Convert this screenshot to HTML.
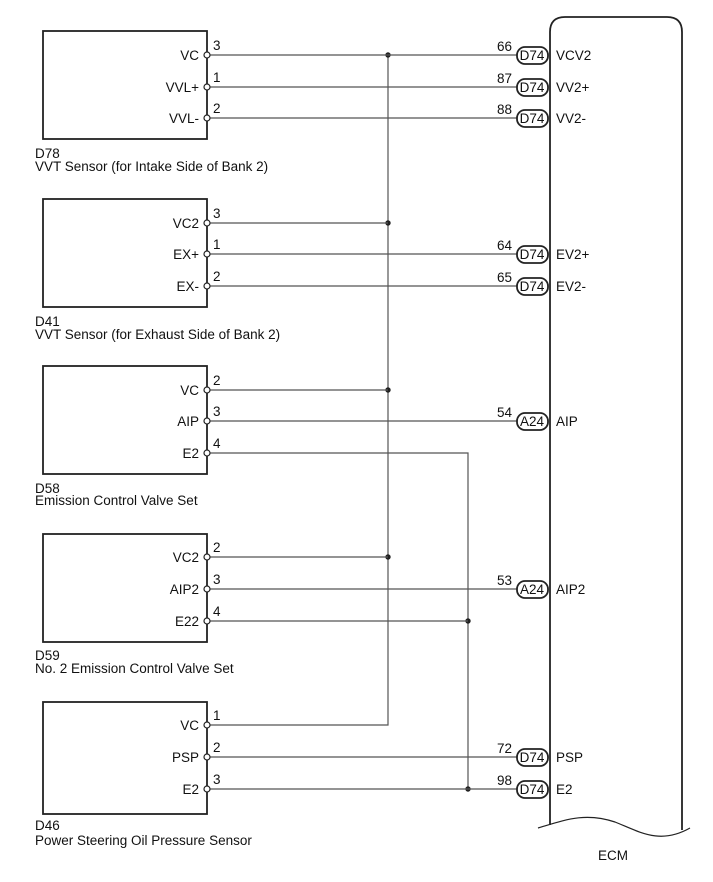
<!DOCTYPE html>
<html><head><meta charset="utf-8"><style>
html,body{margin:0;padding:0;background:#fff;}
svg{display:block;}
text{font-family:"Liberation Sans",Arial,sans-serif;font-size:13.5px;fill:#111;}
.w{stroke:#555;stroke-width:1.2;fill:none;}
.b{stroke:#222;stroke-width:1.8;fill:none;}
.p{stroke:#222;stroke-width:1.2;fill:#fff;}
.pill{stroke:#222;stroke-width:1.8;fill:#fff;}
</style></head><body>
<svg width="713" height="882" viewBox="0 0 713 882" xmlns="http://www.w3.org/2000/svg">
<path class="b" d="M550,825 L550,32 Q550,17 565,17 L667,17 Q682,17 682,32 L682,830"/>
<path class="b" style="stroke-width:1.2" d="M538,828 C565,820 585,812 615,822 C640,832 660,845 690,828"/>
<text x="598" y="860">ECM</text>

<path class="w" d="M388,55 L388,725 L207,725"/>
<path class="w" d="M207,453 L468,453 L468,789"/>
<g fill="#222">
<circle cx="388" cy="55" r="2.7"/><circle cx="388" cy="223" r="2.7"/>
<circle cx="388" cy="390" r="2.7"/><circle cx="388" cy="557" r="2.7"/>
<circle cx="468" cy="621" r="2.7"/><circle cx="468" cy="789" r="2.7"/>
</g>

<g class="w">
<line x1="207" y1="55" x2="517" y2="55"/>
<line x1="207" y1="87" x2="517" y2="87"/>
<line x1="207" y1="118" x2="517" y2="118"/>
<line x1="207" y1="223" x2="388" y2="223"/>
<line x1="207" y1="254" x2="517" y2="254"/>
<line x1="207" y1="286" x2="517" y2="286"/>
<line x1="207" y1="390" x2="388" y2="390"/>
<line x1="207" y1="421" x2="517" y2="421"/>
<line x1="207" y1="557" x2="388" y2="557"/>
<line x1="207" y1="589" x2="517" y2="589"/>
<line x1="207" y1="621" x2="468" y2="621"/>
<line x1="207" y1="757" x2="517" y2="757"/>
<line x1="207" y1="789" x2="517" y2="789"/>
</g>

<g class="b">
<rect x="43" y="31" width="164" height="108"/>
<rect x="43" y="199" width="164" height="108"/>
<rect x="43" y="366" width="164" height="108"/>
<rect x="43" y="534" width="164" height="108"/>
<rect x="43" y="702" width="164" height="112"/>
</g>

<g class="p">
<circle cx="207" cy="55" r="3"/><circle cx="207" cy="87" r="3"/><circle cx="207" cy="118" r="3"/>
<circle cx="207" cy="223" r="3"/><circle cx="207" cy="254" r="3"/><circle cx="207" cy="286" r="3"/>
<circle cx="207" cy="390" r="3"/><circle cx="207" cy="421" r="3"/><circle cx="207" cy="453" r="3"/>
<circle cx="207" cy="557" r="3"/><circle cx="207" cy="589" r="3"/><circle cx="207" cy="621" r="3"/>
<circle cx="207" cy="725" r="3"/><circle cx="207" cy="757" r="3"/><circle cx="207" cy="789" r="3"/>
</g>

<g text-anchor="end">
<text x="199" y="60">VC</text><text x="199" y="92">VVL+</text><text x="199" y="123">VVL-</text>
<text x="199" y="228">VC2</text><text x="199" y="259">EX+</text><text x="199" y="291">EX-</text>
<text x="199" y="395">VC</text><text x="199" y="426">AIP</text><text x="199" y="458">E2</text>
<text x="199" y="562">VC2</text><text x="199" y="594">AIP2</text><text x="199" y="626">E22</text>
<text x="199" y="730">VC</text><text x="199" y="762">PSP</text><text x="199" y="794">E2</text>
</g>
<g>
<text x="213" y="50">3</text><text x="213" y="82">1</text><text x="213" y="113">2</text>
<text x="213" y="218">3</text><text x="213" y="249">1</text><text x="213" y="281">2</text>
<text x="213" y="385">2</text><text x="213" y="416">3</text><text x="213" y="448">4</text>
<text x="213" y="552">2</text><text x="213" y="584">3</text><text x="213" y="616">4</text>
<text x="213" y="720">1</text><text x="213" y="752">2</text><text x="213" y="784">3</text>
</g>

<text x="35" y="158">D78</text><text x="35" y="171">VVT Sensor (for Intake Side of Bank 2)</text>
<text x="35" y="326">D41</text><text x="35" y="339">VVT Sensor (for Exhaust Side of Bank 2)</text>
<text x="35" y="493">D58</text><text x="35" y="505">Emission Control Valve Set</text>
<text x="35" y="660">D59</text><text x="35" y="673">No. 2 Emission Control Valve Set</text>
<text x="35" y="830">D46</text><text x="35" y="845">Power Steering Oil Pressure Sensor</text>

<g>
<g transform="translate(0,55)"><text x="512" y="-4" text-anchor="end">66</text><rect class="pill" x="517" y="-8" width="31" height="17" rx="8"/><text x="532" y="5" text-anchor="middle">D74</text><text x="556" y="5">VCV2</text></g>
<g transform="translate(0,87)"><text x="512" y="-4" text-anchor="end">87</text><rect class="pill" x="517" y="-8" width="31" height="17" rx="8"/><text x="532" y="5" text-anchor="middle">D74</text><text x="556" y="5">VV2+</text></g>
<g transform="translate(0,118)"><text x="512" y="-4" text-anchor="end">88</text><rect class="pill" x="517" y="-8" width="31" height="17" rx="8"/><text x="532" y="5" text-anchor="middle">D74</text><text x="556" y="5">VV2-</text></g>
<g transform="translate(0,254)"><text x="512" y="-4" text-anchor="end">64</text><rect class="pill" x="517" y="-8" width="31" height="17" rx="8"/><text x="532" y="5" text-anchor="middle">D74</text><text x="556" y="5">EV2+</text></g>
<g transform="translate(0,286)"><text x="512" y="-4" text-anchor="end">65</text><rect class="pill" x="517" y="-8" width="31" height="17" rx="8"/><text x="532" y="5" text-anchor="middle">D74</text><text x="556" y="5">EV2-</text></g>
<g transform="translate(0,421)"><text x="512" y="-4" text-anchor="end">54</text><rect class="pill" x="517" y="-8" width="31" height="17" rx="8"/><text x="532" y="5" text-anchor="middle">A24</text><text x="556" y="5">AIP</text></g>
<g transform="translate(0,589)"><text x="512" y="-4" text-anchor="end">53</text><rect class="pill" x="517" y="-8" width="31" height="17" rx="8"/><text x="532" y="5" text-anchor="middle">A24</text><text x="556" y="5">AIP2</text></g>
<g transform="translate(0,757)"><text x="512" y="-4" text-anchor="end">72</text><rect class="pill" x="517" y="-8" width="31" height="17" rx="8"/><text x="532" y="5" text-anchor="middle">D74</text><text x="556" y="5">PSP</text></g>
<g transform="translate(0,789)"><text x="512" y="-4" text-anchor="end">98</text><rect class="pill" x="517" y="-8" width="31" height="17" rx="8"/><text x="532" y="5" text-anchor="middle">D74</text><text x="556" y="5">E2</text></g>
</g>
</svg>
</body></html>
